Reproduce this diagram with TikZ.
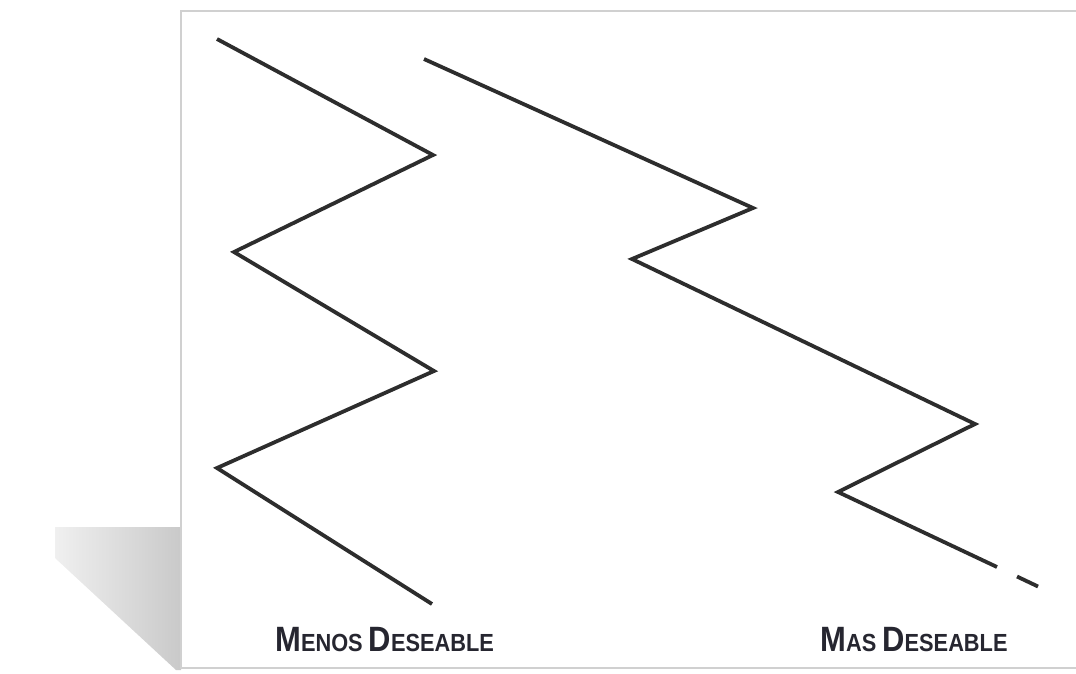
\documentclass[tikz,border=0pt]{standalone}
\usepackage{fontspec}
\usepackage{tikz}
\usetikzlibrary{calc}
\newfontfamily\lblfont{Liberation Sans}
\definecolor{zigline}{RGB}{45,45,45}
\definecolor{lblcolor}{RGB}{38,38,48}
\definecolor{framegray}{RGB}{208,208,208}
\newcommand{\fakesc}[2]{{\fontsize{25}{25}\selectfont #1}{\fontsize{17.6}{17.6}\selectfont #2}}

\begin{document}
\begin{tikzpicture}[x=0.025cm,y=-0.025cm,
    zig/.style={line width=2.7pt,zigline},
    lbl/.style={anchor=base west,inner sep=0pt,font=\lblfont\bfseries\fontsize{17.6}{17.6}\selectfont,text=lblcolor,xscale=0.88}]
    \useasboundingbox (0,0) rectangle (1076,673);
    \clip (0,0) rectangle (1076,673);
    % shadow and panel
    \shade[left color=gray!12,right color=gray!42] (55,527) -- (181,527) -- (181,670) -- (176,670) -- (55,558) -- cycle;
    \draw[framegray,line width=1.5pt,fill=white] (181,11) rectangle (1100,668);
    % less desirable
    \draw[zig] (217,39) -- (433,155) -- (234,252) -- (434,371) -- (217,468) -- (432,604);
    % more desirable
    \draw[zig] (424,59) -- (753,208) -- (632,259) -- (975,424) -- (838,492) -- (997,567);
    \draw[zig] (1017,576.5) -- (1038,586.5);
    \node[lbl] (menos) at (275,651) {\fakesc{M}{ENOS} \fakesc{D}{ESEABLE}};
    \node[lbl] (mas) at (820,651) {\fakesc{M}{AS} \fakesc{D}{ESEABLE}};
\end{tikzpicture}
\end{document}
